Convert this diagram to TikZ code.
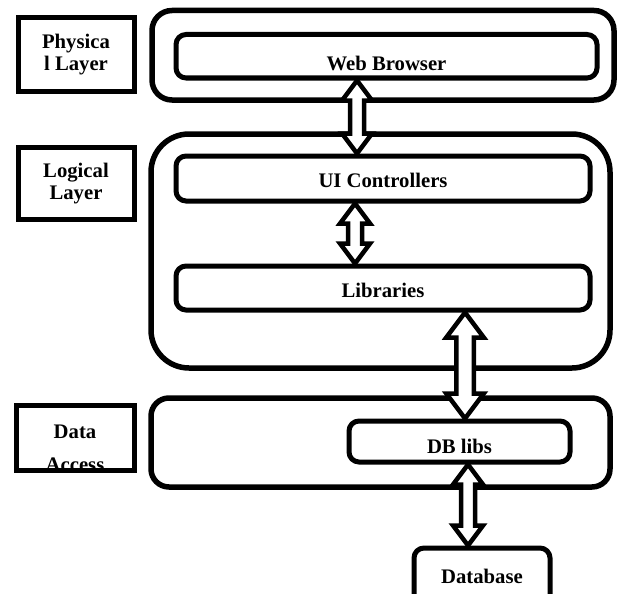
\documentclass[tikz,border=0pt]{standalone}
\usepackage{fontspec}
\setmainfont{Liberation Serif}
\usepackage{tikz}
\usetikzlibrary{calc}

% hollow two-headed arrow from #2 (top) down to #3 (bottom)
\newcommand{\updown}[3][1]{%
  \filldraw[fill=white, line width=4.5pt, line join=miter]
    let \p1=(#2), \p2=(#3), \n1={15*#1}, \n2={20*#1}, \n3={7*#1} in
    (\x1,\y1) -- (\x1+\n1,\y1-\n2) -- (\x1+\n3,\y1-\n2) -- (\x1+\n3,\y2+\n2)
    -- (\x1+\n1,\y2+\n2) -- (\x1,\y2) -- (\x1-\n1,\y2+\n2) -- (\x1-\n3,\y2+\n2)
    -- (\x1-\n3,\y1-\n2) -- (\x1-\n1,\y1-\n2) -- cycle;}

\begin{document}
\begin{tikzpicture}
 [x=1pt, y=-1pt, font=\fontsize{20.7}{22}\selectfont\bfseries,
  layer node/.style={draw, line width=5pt, minimum width=116pt, align=center, inner sep=0pt},
  outer node/.style={draw, line width=5.5pt, inner sep=0pt},
  inner node/.style={draw, line width=5pt, rounded corners=10pt, inner sep=0pt, text depth=0pt}]

\useasboundingbox (0,0) rectangle (621,594);

% physical layer
\node[layer node, minimum height=73pt] (physlabel) at (76,54.5) {Physica\\l Layer};
\node[outer node, rounded corners=20pt, minimum width=462pt, minimum height=89.5pt] (phys) at (383,55.25) {};
\node[inner node, minimum width=421pt, minimum height=43.5pt, text height=29pt] (web) at (386.5,56.25) {Web Browser};

% logical layer
\node[layer node, minimum height=72pt] (loglabel) at (76,183.5) {Logical\\Layer};
\node[outer node, rounded corners=38pt, minimum width=459pt, minimum height=234pt] (logic) at (380.5,251) {};
\node[inner node, minimum width=414pt, minimum height=45pt, text height=18pt] (ui) at (383,178.5) {UI Controllers};
\node[inner node, minimum width=414pt, minimum height=44pt, text height=18pt] (lib) at (383,288) {Libraries};

% data access
\node[layer node, minimum width=118pt, minimum height=65pt] (datalabel) at (75,437.5) {};
\begin{scope}
  \clip (datalabel.north west) rectangle ($(datalabel.south east)+(0,-5)$);
  \node[align=center, font=\fontsize{20.7}{33}\selectfont\bfseries] (datatext) at (75,448) {Data\\Access};
\end{scope}
\node[outer node, rounded corners=18pt, minimum width=459pt, minimum height=89pt] (data) at (380.5,442.5) {};
\node[inner node, minimum width=221pt, minimum height=41pt, text height=23pt] (dblib) at (459.5,441.5) {DB libs};
\node[inner node, minimum width=136pt, minimum height=60pt, text height=10pt] (db) at (482,578) {Database};

% arrows
\updown{$(web.south)+(-29.5,0)$}{ui.north}
\updown{$(ui.south)+(-28,0)$}{lib.north}
\updown[1.25]{$(lib.south)+(82,0)$}{dblib.north}
\updown{$(dblib.south)+(8.5,0)$}{db.north}

\end{tikzpicture}
\end{document}
